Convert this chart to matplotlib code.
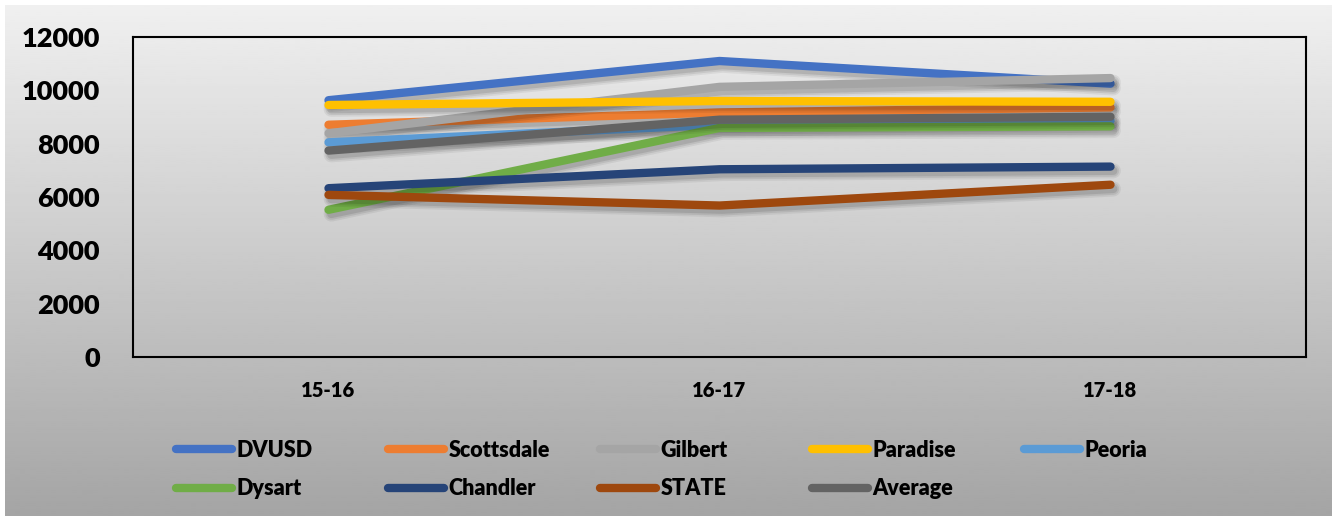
import matplotlib
matplotlib.use("Agg")
import matplotlib.pyplot as plt
import matplotlib.patheffects as pe
import numpy as np

# school years on the x axis
years = ["15-16", "16-17", "17-18"]

# per-pupil values for each district
dvusd = [9630, 11100, 10250]
scottsdale = [8710, 9170, 9360]
gilbert = [8390, 10130, 10460]
paradise = [9450, 9600, 9570]
peoria = [8050, 8710, 8860]
dysart = [5520, 8590, 8650]
chandler = [6330, 7040, 7140]
state = [6080, 5680, 6460]
average = [7740, 8900, 9010]

names = ["DVUSD", "Scottsdale", "Gilbert", "Paradise", "Peoria",
         "Dysart", "Chandler", "STATE", "Average"]
series = [dvusd, scottsdale, gilbert, paradise, peoria,
          dysart, chandler, state, average]
colours = ["#4472C4", "#ED7D31", "#A5A5A5", "#FFC000", "#5B9BD5",
           "#70AD47", "#264478", "#9E480E", "#636363"]

plt.rcParams["font.family"] = ["Lato", "DejaVu Sans"]
plt.rcParams["font.weight"] = "heavy"

fig = plt.figure(figsize=(13.37, 5.21), dpi=100)

# grey gradient behind everything
bg = fig.add_axes([5 / 1337, 5 / 521, 1327 / 1337, 511 / 521], zorder=0)
grad = np.linspace(0.94, 0.645, 256).reshape(-1, 1)
bg.imshow(grad, cmap="gray", vmin=0, vmax=1, aspect="auto",
          extent=(0, 1, 0, 1))
bg.axis("off")

ax = fig.add_axes([133 / 1337, 164 / 521, 1173 / 1337, 320 / 521], zorder=1)
ax.patch.set_alpha(0)

x = np.arange(len(years))
# soft drop shadow built from a few faint strokes
shadow = [pe.SimpleLineShadow(offset=(2, -3), shadow_color="black", alpha=0.06, linewidth=11),
          pe.SimpleLineShadow(offset=(2, -3), shadow_color="black", alpha=0.08, linewidth=8.5),
          pe.SimpleLineShadow(offset=(2, -3), shadow_color="black", alpha=0.10, linewidth=6),
          pe.Normal()]
lines = []
for name, vals, col in zip(names, series, colours):
    ln, = ax.plot(x, vals, color=col, lw=6, solid_capstyle="round",
                  solid_joinstyle="round", label=name, path_effects=shadow)
    lines.append(ln)

ax.set_xlim(-0.5, 2.5)
ax.set_ylim(0, 12000)
ax.set_yticks(np.arange(0, 12001, 2000))
ax.set_xticks(x)
ax.set_xticklabels(years)
ax.tick_params(axis="y", length=0, pad=24, labelsize=19.5)
ax.tick_params(axis="x", length=0, pad=17, labelsize=14.5)
for s in ax.spines.values():
    s.set_linewidth(1.5)
    s.set_color("black")

# one legend per column so the columns sit at an even pitch
for c in range(5):
    idx = [i for i in (c, c + 5) if i < len(names)]
    leg = fig.legend([lines[i] for i in idx], [names[i] for i in idx],
                     loc="upper left",
                     bbox_to_anchor=((176 + 212 * c) / 1337, 1 - 440 / 521),
                     frameon=False, fontsize=15.5, handlelength=2.6,
                     handletextpad=0.2, borderpad=0, borderaxespad=0,
                     labelspacing=0.8)
    for h in leg.legend_handles:
        h.set_path_effects([])
        h.set_linewidth(6)
        h.set_solid_capstyle("round")

fig.savefig("out.png", dpi=100)
